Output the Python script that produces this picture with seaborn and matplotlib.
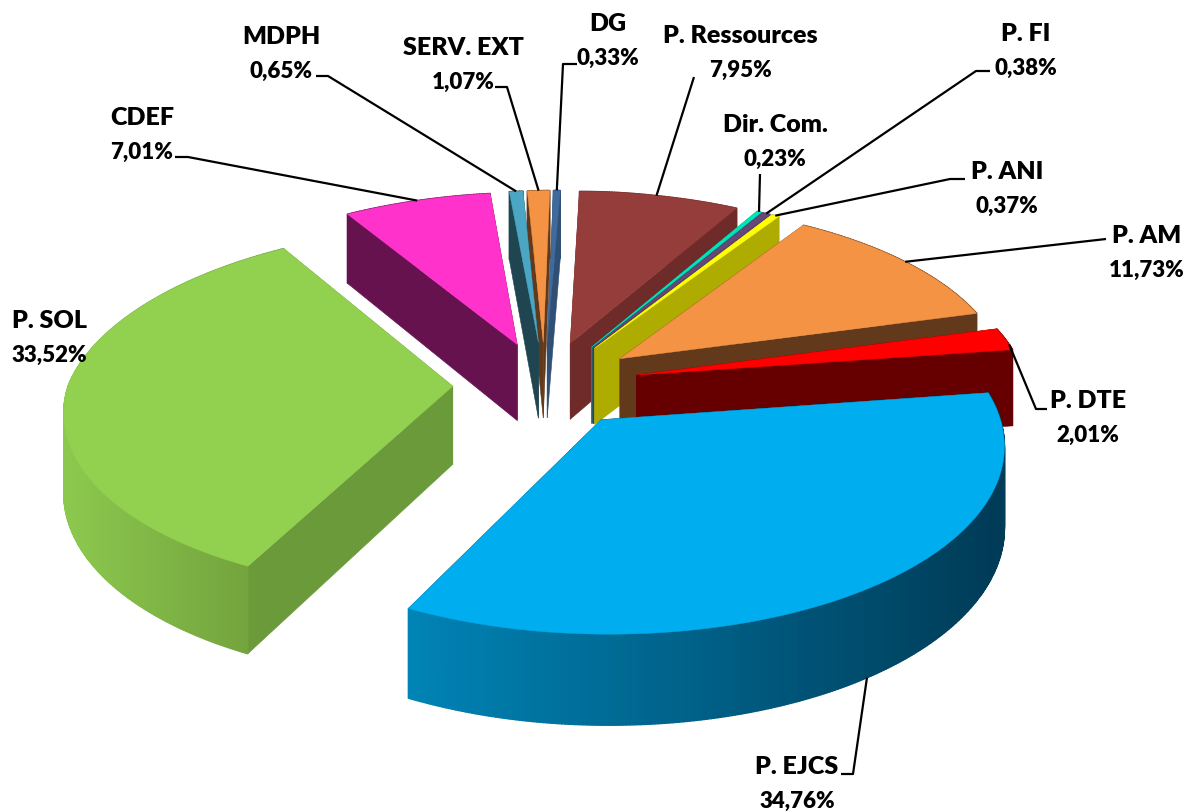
import numpy as np
import matplotlib
matplotlib.use("Agg")
import matplotlib.pyplot as plt
import seaborn as sns

names = ["P. Ressources", "Dir. Com.", "P. FI", "P. ANI", "P. AM", "P. DTE", "P. EJCS",
         "P. SOL", "CDEF", "MDPH", "SERV. EXT", "DG"]
values = [7.95, 0.23, 0.38, 0.37, 11.73, 2.01, 34.76, 33.52, 7.01, 0.65, 1.07, 0.33]

top_colors = ["#953D3B", "#00E6B8", "#65487A", "#FFFF00", "#F39343", "#FF0000", "#00ADEE",
              "#92D050", "#FF33CC", "#4BA6C4", "#F39343", "#3F6A9C"]
wall_colors = ["#6E2B2A", "#008F80", "#4A3560", "#AEAC00", "#63391C", "#660000", "#003D58",
               "#6B9A3A", "#66124F", "#1F4550", "#63391C", "#2F4F75"]
arc_left = {"P. EJCS": "#0083B5", "P. SOL": "#8CC84E"}
arc_right = {"P. EJCS": "#003A55", "P. SOL": "#6E9C3A"}

# layout
CX, CY, S, K, A, H, EXPLODE, SHEAR, LEFT = 545, 385, 390, 0.46, 0.12, 78, 0.24, 13, 0.985
label_pos = {"P. Ressources": (740, 53), "Dir. Com.": (775, 142), "P. FI": (1026, 51),
             "P. ANI": (1007, 189), "P. AM": (1147, 253), "P. DTE": (1088, 418),
             "P. EJCS": (797, 784), "P. SOL": (49, 338), "CDEF": (142, 135),
             "MDPH": (281, 54), "SERV. EXT": (463, 65), "DG": (608, 41)}
leaders = {"P. Ressources": ([(694, 78)], 0.5, 0), "Dir. Com.": ([(760, 175)], 0.5, 0),
           "P. FI": ([(990, 72), (976, 72)], 0.5, 0), "P. ANI": ([(965, 180), (950, 180)], 0.5, 0),
           "P. AM": ([(1106, 240)], 0.5, 0), "P. DTE": ([(1047, 410), (1036, 410)], 0.75, 0),
           "P. EJCS": ([(841, 775), (853, 775)], 0.5, 1), "CDEF": ([(175, 158), (188, 158)], 0.5, 0),
           "MDPH": ([(316, 77), (328, 77)], 0.5, 0), "SERV. EXT": ([(495, 88), (507, 88)], 0.5, 0),
           "DG": ([(577, 65), (563, 65)], 0.5, 0)}

sns.set_theme(style="white")
plt.rcParams["font.family"] = ["Lato", "DejaVu Sans"]
fig = plt.figure(figsize=(11.84, 8.12), dpi=100, facecolor="white")
ax = fig.add_axes([0, 0, 1, 1])
ax.set_xlim(0, 1184)
ax.set_ylim(812, 0)
ax.axis("off")


def project(x, y, z=0.0):
    p = 1.0 / (1.0 + A * y)
    sx = S * x * p * (LEFT if x < 0 else 1.0)
    shear = SHEAR * (1 - 0.55 * np.clip(x / 0.3, 0, 1))
    return CX + sx + shear * max(y, 0.0), CY - S * K * y * p + H * z * p


def rim(th, off, r=1.0):
    return off[0] + r * np.sin(th), off[1] + r * np.cos(th)


vals = np.array(values)
edges = np.deg2rad(np.concatenate([[0], np.cumsum(vals)]) / vals.sum() * 360)
mids = (edges[:-1] + edges[1:]) / 2
offs = [(EXPLODE * np.sin(m), EXPLODE * np.cos(m)) for m in mids]
order = list(np.argsort([-o[1] for o in offs]))

for i in order:
    name = names[i]
    off = offs[i]
    th = np.linspace(edges[i], edges[i + 1], max(4, int(values[i] * 8)))
    ax_x, ax_y = off
    z0 = 1 + 3 * order.index(i)
    for t in (th[0], th[-1]):
        rx, ry = rim(t, off)
        pts = [project(ax_x, ax_y), project(rx, ry), project(rx, ry, 1), project(ax_x, ax_y, 1)]
        ax.fill(*zip(*pts), color=wall_colors[i], lw=0.4, zorder=z0)
    xs = [project(*rim(t, off))[0] for t in th]
    pal = sns.blend_palette([arc_left[name], arc_right[name]], 64) if name in arc_left else None
    xmin, xmax = min(xs), max(xs)
    for a, b in zip(th[:-1], th[1:]):
        ra, rb = rim(a, off), rim(b, off)
        pts = [project(*ra), project(*rb), project(*rb, 1), project(*ra, 1)]
        if pal is not None:
            f = ((pts[0][0] + pts[1][0]) / 2 - xmin) / (xmax - xmin + 1e-6)
            c = pal[int(np.clip(f, 0, 1) * 63)]
        else:
            c = wall_colors[i]
        ax.fill(*zip(*pts), color=c, lw=1.0, zorder=z0 + 1)
    top = [project(ax_x, ax_y)] + [project(*rim(t, off)) for t in th]
    ax.fill(*zip(*top), color=top_colors[i], lw=0.3, zorder=z0 + 2)

for i, name in enumerate(names):
    lx, ly = label_pos[name]
    ax.text(lx, ly - 17, name, ha="center", va="center", fontsize=18, fontweight="heavy",
            color="black", zorder=200)
    ax.text(lx, ly + 17, f"{values[i]:.2f}".replace(".", ",") + "%", ha="center", va="center",
            fontsize=16, fontweight="heavy", color="black", zorder=200)
    if name in leaders:
        elbow, frac, z = leaders[name]
        t = edges[i] + frac * (edges[i + 1] - edges[i])
        end = project(*rim(t, offs[i]), z)
        ax.plot(*zip(*(list(elbow) + [end])), color="black", lw=1.6, zorder=150, solid_capstyle="butt")

fig.savefig("out.png", dpi=100, facecolor="white")
